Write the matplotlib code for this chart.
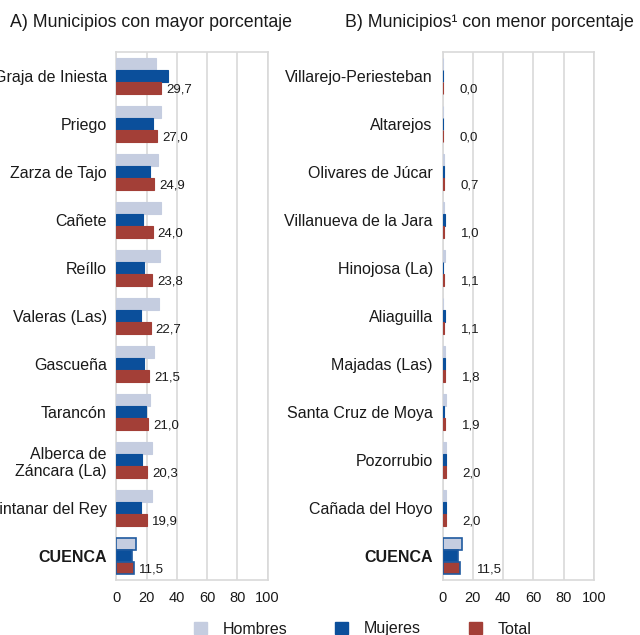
import numpy as np
import matplotlib
matplotlib.use("Agg")
import matplotlib.pyplot as plt
from matplotlib.patches import Patch

plt.rcParams['font.family'] = ['Liberation Sans', 'DejaVu Sans']

# datos (porcentaje)
mun_a = ["Graja de Iniesta", "Priego", "Zarza de Tajo", "Cañete", "Reíllo",
         "Valeras (Las)", "Gascueña", "Tarancón", "Alberca de\nZáncara (La)",
         "Quintanar del Rey", "CUENCA"]
hombres_a = [26.2, 29.7, 27.5, 29.7, 29.0, 28.4, 25.1, 22.4, 23.8, 23.3, 12.8]
mujeres_a = [33.9, 24.2, 22.0, 17.8, 18.5, 16.3, 18.5, 19.8, 16.9, 16.5, 10.2]
total_a = [29.7, 27.0, 24.9, 24.0, 23.8, 22.7, 21.5, 21.0, 20.3, 19.9, 11.5]

mun_b = ["Villarejo-Periesteban", "Altarejos", "Olivares de Júcar",
         "Villanueva de la Jara", "Hinojosa (La)", "Aliaguilla", "Majadas (Las)",
         "Santa Cruz de Moya", "Pozorrubio", "Cañada del Hoyo", "CUENCA"]
hombres_b = [0.0, 0.0, 0.7, 1.0, 1.5, 0.3, 1.8, 2.5, 2.0, 2.0, 12.8]
mujeres_b = [0.0, 0.0, 0.7, 1.6, 0.6, 1.5, 1.8, 1.2, 2.0, 2.0, 10.2]
total_b = [0.0, 0.0, 0.7, 1.0, 1.1, 1.1, 1.8, 1.9, 2.0, 2.0, 11.5]

c_h = "#c5cde0"
c_m = "#0b4f9b"
c_t = "#a33f37"
c_edge = "#1f5aa0"
c_grid = "#d9d9d9"
c_txt = "#1a1a1a"

fig = plt.figure(figsize=(6.40, 6.35), dpi=100)
ax1 = fig.add_axes([0.182, 0.0866, 0.236, 0.8315])
ax2 = fig.add_axes([0.6915, 0.0866, 0.2365, 0.8315])


def panel(ax, names, h, m, t, lab_off, lab_size):
    y = np.arange(len(names))
    bh = 0.25
    for vals, off, col in [(h, -bh, c_h), (m, 0, c_m), (t, bh, c_t)]:
        bars = ax.barh(y + off, vals, height=bh, color=col, edgecolor=col,
                       linewidth=0.8, zorder=3)
        # CUENCA con borde
        bars[-1].set_edgecolor(c_edge)
        bars[-1].set_linewidth(1.2)
    for yi, v in zip(y, t):
        ax.annotate(f"{v:.1f}".replace(".", ","), xy=(v, yi + bh),
                    xytext=(lab_off, -1), textcoords="offset points",
                    va="center", ha="left", fontsize=lab_size, color=c_txt)
    ax.set_xlim(0, 100)
    ax.set_ylim(len(names) - 0.5, -0.5)
    ax.set_xticks([0, 20, 40, 60, 80, 100])
    ax.set_yticks(y)
    ax.set_yticklabels(names, fontsize=11.5, color=c_txt)
    ax.get_yticklabels()[-1].set_fontweight("bold")
    ax.tick_params(axis="both", length=0)
    ax.tick_params(axis="y", pad=7)
    ax.tick_params(axis="x", pad=8, labelsize=10.5, labelcolor=c_txt)
    ax.grid(axis="x", color=c_grid, linewidth=1.2, zorder=0)
    for s in ax.spines.values():
        s.set_color(c_grid)
        s.set_linewidth(1.2)


panel(ax1, mun_a, hombres_a, mujeres_a, total_a, 3.6, 9.5)
panel(ax2, mun_b, hombres_b, mujeres_b, total_b, 12, 9.5)

fig.text(10 / 640, 0.965, "A) Municipios con mayor porcentaje", fontsize=12.8,
         color=c_txt, va="center", ha="left")
fig.text(345 / 640, 0.965, "B) Municipios¹ con menor porcentaje", fontsize=12.8,
         color=c_txt, va="center", ha="left")

handles = [Patch(facecolor=c_h, edgecolor=c_h),
           Patch(facecolor=c_m, edgecolor=c_m),
           Patch(facecolor=c_t, edgecolor=c_t)]
fig.legend(handles, ["Hombres", "Mujeres", "Total"], ncol=3, frameon=False,
           loc="center left", bbox_to_anchor=(194 / 640, 1 - 629 / 635),
           fontsize=11.5, handlelength=0.8, handleheight=0.8, handletextpad=1.0,
           columnspacing=3.0, borderpad=0, borderaxespad=0, labelcolor=c_txt)

fig.savefig("out.png", dpi=100)
